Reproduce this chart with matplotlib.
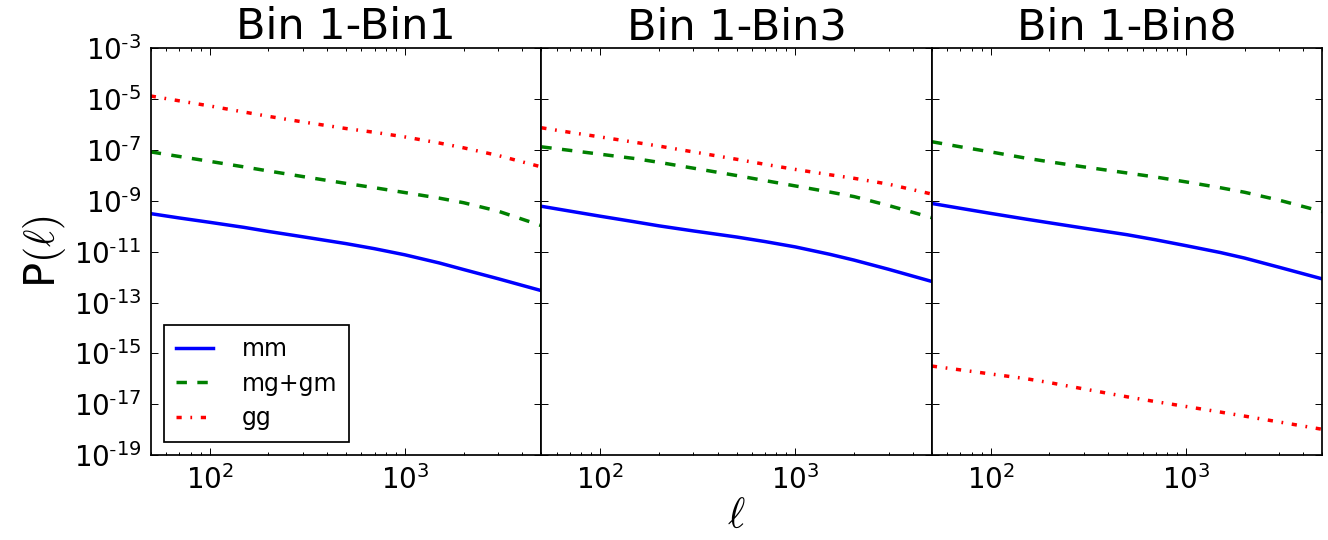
import numpy as np
import matplotlib
matplotlib.use("Agg")
import matplotlib.pyplot as plt
from matplotlib.ticker import FixedLocator, NullLocator, LogLocator, FuncFormatter

# ---- data (curves given as log10 P(l)) ----
ell = [50, 70, 100, 150, 200, 300, 500, 700, 1000, 1500, 2000, 3000, 5000]
titles = ["Bin 1-Bin1", "Bin 1-Bin3", "Bin 1-Bin8"]
series_labels = ["mm", "mg+gm", "gg"]

log_mm_1 = [-9.50, -9.67, -9.84, -10.04, -10.20, -10.41, -10.68, -10.88, -11.12, -11.44, -11.70, -12.06, -12.53]
log_mg_1 = [-7.07, -7.25, -7.44, -7.66, -7.82, -8.04, -8.31, -8.48, -8.67, -8.89, -9.07, -9.40, -9.97]
log_gg_1 = [-4.87, -5.06, -5.26, -5.50, -5.67, -5.89, -6.15, -6.30, -6.48, -6.72, -6.91, -7.21, -7.66]

log_mm_3 = [-9.21, -9.40, -9.60, -9.82, -9.98, -10.18, -10.42, -10.60, -10.81, -11.10, -11.33, -11.69, -12.17]
log_mg_3 = [-6.87, -7.01, -7.16, -7.33, -7.48, -7.71, -8.00, -8.20, -8.41, -8.65, -8.83, -9.18, -9.66]
log_gg_3 = [-6.12, -6.30, -6.48, -6.69, -6.84, -7.07, -7.36, -7.56, -7.76, -7.97, -8.11, -8.34, -8.73]

log_mm_8 = [-9.10, -9.29, -9.49, -9.71, -9.86, -10.07, -10.33, -10.53, -10.76, -11.03, -11.25, -11.61, -12.07]
log_mg_8 = [-6.67, -6.87, -7.07, -7.31, -7.46, -7.66, -7.90, -8.06, -8.25, -8.48, -8.66, -8.97, -9.42]
log_gg_8 = [-15.50, -15.65, -15.81, -15.99, -16.15, -16.40, -16.71, -16.90, -17.09, -17.31, -17.47, -17.70, -17.99]

panels = [(log_mm_1, log_mg_1, log_gg_1),
          (log_mm_3, log_mg_3, log_gg_3),
          (log_mm_8, log_mg_8, log_gg_8)]
ytick_exponents = [-3, -5, -7, -9, -11, -13, -15, -17, -19]

# ---- style ----
plt.rcParams['font.family'] = ['DejaVu Sans']
plt.rcParams['mathtext.fontset'] = 'cm'
plt.rcParams['lines.scale_dashes'] = False
plt.rcParams['axes.linewidth'] = 1.25


def sci_fmt(v, pos):
    e = int(round(np.log10(v)))
    if e < 0:
        return r'$\mathdefault{10^{\text{-}%d}}$' % (-e)
    return r'$\mathdefault{10^{%d}}$' % e


fig = plt.figure(figsize=(13.28, 5.4), dpi=100)
left, width, bottom, height = 0.1135, 0.2941, 0.1574, 0.7528

axes = []
for i, (mm, mg, gg) in enumerate(panels):
    ax = fig.add_axes([left + i * width, bottom, width, height])
    axes.append(ax)
    ax.plot(ell, np.power(10.0, mm), color='blue', lw=2.5, ls='-', label=series_labels[0])
    ax.plot(ell, np.power(10.0, mg), color='green', lw=2.5, dashes=(7.5, 7.5), label=series_labels[1])
    ax.plot(ell, np.power(10.0, gg), color='red', lw=2.5, dashes=(3.75, 6.25, 1.25, 6.25), label=series_labels[2])
    ax.set_xscale('log')
    ax.set_yscale('log')
    ax.set_xlim(50, 5000)
    ax.set_ylim(1e-19, 1e-3)
    ax.yaxis.set_major_locator(FixedLocator([10.0 ** e for e in ytick_exponents]))
    ax.yaxis.set_minor_locator(NullLocator())
    ax.yaxis.set_major_formatter(FuncFormatter(sci_fmt))
    ax.xaxis.set_major_locator(LogLocator(base=10))
    ax.xaxis.set_minor_locator(LogLocator(base=10, subs=np.arange(2, 10)))
    ax.xaxis.set_major_formatter(FuncFormatter(sci_fmt))
    ax.tick_params(which='both', direction='in', top=True, right=True, width=0.7)
    ax.tick_params(which='major', length=5, pad=7, labelsize=20)
    ax.tick_params(which='minor', length=2.5)
    ax.set_title(titles[i], fontsize=31, pad=6)
    if i > 0:
        ax.tick_params(labelleft=False)

axes[0].set_ylabel(r'P$(\ell)$', fontsize=30, labelpad=4)
axes[1].set_xlabel(r'$\ell$', fontsize=30, labelpad=0)

leg = axes[0].legend(loc='lower left', fontsize=17, handlelength=1.6,
                     handletextpad=1.2, borderpad=0.5, labelspacing=0.45,
                     borderaxespad=0.55, fancybox=False, framealpha=1,
                     edgecolor='black')
leg.get_frame().set_linewidth(1.25)

fig.savefig('out.png', dpi=100)
